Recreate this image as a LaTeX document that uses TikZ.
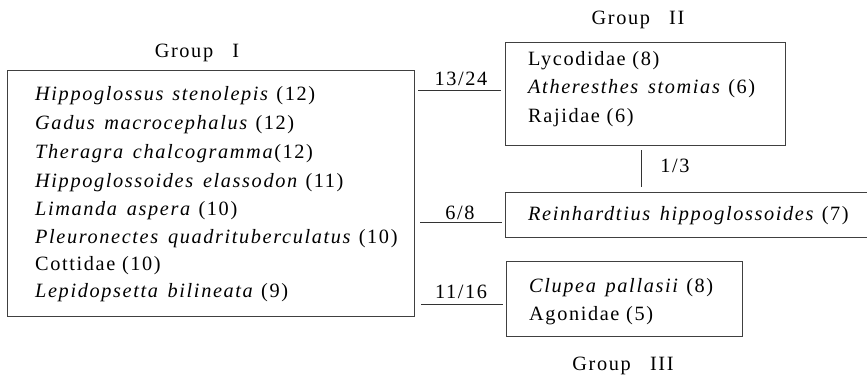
\documentclass[tikz,border=0pt]{standalone}
\usepackage{fontspec}
\setmainfont{Liberation Serif}[LetterSpace=8]
\begin{document}
\begin{tikzpicture}[x=1pt,y=-1pt,
  txt/.style={anchor=base west,inner sep=0pt,font=\fontsize{20.3}{24}\selectfont},
  lab/.style={anchor=base,inner sep=0pt,font=\fontsize{20.3}{24}\selectfont},
  frame/.style={draw=black!75,line width=0.6pt},
  conn/.style={draw=black!80,line width=0.7pt}]
\useasboundingbox (0,0) rectangle (867,376);
% boxes
\path[frame] (7,70) rectangle (414,316);
\path[frame] (505,42) rectangle (785,145);
\path[frame] (867,192) -- (505,192) -- (505,237) -- (867,237);
\path[frame] (506,261) rectangle (742,336);
% group labels
\node[lab] (g1) at (197,57) {Group\hspace{0.95em}I};
\node[lab] (g2) at (638,24) {Group\hspace{0.95em}II};
\node[lab] (g3) at (623,370) {Group\hspace{0.95em}III};
% group I texts
\node[txt] (t1) at (35,100) {\textit{Hippoglossus\hspace{0.1em} stenolepis} (12)};
\node[txt] (t2) at (35,129) {\textit{Gadus\hspace{0.15em} macrocephalus} (12)};
\node[txt] (t3) at (35,158) {\textit{Theragra\hspace{0.15em} chalcogramma}(12)};
\node[txt] (t4) at (35,187) {\textit{Hippoglossoides\hspace{0.15em} elassodon} (11)};
\node[txt] (t5) at (35,215) {\textit{Limanda\hspace{0.15em} aspera} (10)};
\node[txt] (t6) at (35,243) {\textit{Pleuronectes\hspace{0.15em} quadrituberculatus} (10)};
\node[txt] (t7) at (35,270) {Cottidae (10)};
\node[txt] (t8) at (35,297) {\textit{Lepidopsetta\hspace{0.15em} bilineata} (9)};
% group II texts
\node[txt] (u1) at (528,65) {Lycodidae (8)};
\node[txt] (u2) at (528,93) {\textit{Atheresthes\hspace{0.15em} stomias} (6)};
\node[txt] (u3) at (528,122) {Rajidae (6)};
% reinhardtius
\node[txt] (r1) at (528,220) {\textit{Reinhardtius\hspace{0.15em} hippoglossoides} (7)};
% group III texts
\node[txt] (c1) at (529,292) {\textit{Clupea\hspace{0.15em} pallasii} (8)};
\node[txt] (c2) at (529,320) {Agonidae (5)};
% connectors
\coordinate (l1a) at (418,90); \coordinate (l1b) at (501,90);
\coordinate (l2a) at (420,222); \coordinate (l2b) at (502,222);
\coordinate (l3a) at (421,304); \coordinate (l3b) at (503,304);
\coordinate (v1a) at (641,150); \coordinate (v1b) at (641,187);
\draw[conn] (l1a) -- (l1b);
\draw[conn] (l2a) -- (l2b);
\draw[conn] (l3a) -- (l3b);
\draw[conn] (v1a) -- (v1b);
\node[lab] (n1) at (461,85) {13/24};
\node[lab] (n2) at (460,219) {6/8};
\node[lab] (n3) at (461,298) {11/16};
\node[lab] (n4) at (675,172) {1/3};
\end{tikzpicture}
\end{document}
